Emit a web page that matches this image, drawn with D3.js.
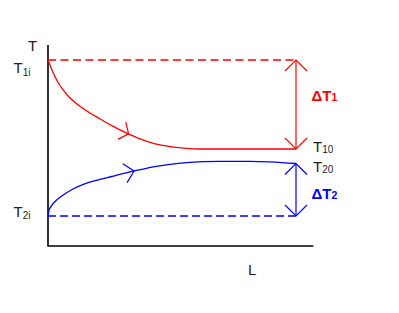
<!DOCTYPE html>
<html><head><meta charset="utf-8">
<script src="https://cdn.jsdelivr.net/npm/d3@7"></script>
<style>
html,body{margin:0;padding:0;background:#fff;}
svg{display:block;font-family:"Liberation Sans",Arial,sans-serif;}
</style></head>
<body><svg id="c" width="399" height="313"></svg>
<script>
// ---- data (L normalised 0..1, T in arbitrary units) ----
const T1i = 100, T10 = 42.95, T2i = 0, T20 = 33.65;
const hotL = [0, 0.016, 0.036, 0.061, 0.089, 0.125, 0.169, 0.210, 0.257, 0.311, 0.371, 0.425, 0.492, 0.559, 0.613, 0.694, 1];
const hotT = [100, 93.6, 86.9, 80.8, 75.6, 70.8, 66.0, 62.2, 57.9, 53.65, 49.4, 46.5, 44.5, 43.3, 42.95, 42.95, 42.95];
const coldL = [0, 0.004, 0.012, 0.028, 0.057, 0.097, 0.153, 0.190, 0.257, 0.344, 0.425, 0.492, 0.559, 0.626, 0.694, 0.815, 1];
const coldT = [0, 3.46, 6.03, 9.17, 12.95, 16.99, 20.96, 22.63, 25.32, 28.72, 31.54, 33.14, 34.23, 34.81, 35.06, 35.0, 33.65];
const hotArrowL = 0.325, coldArrowL = 0.347;
const axisLabels = {x: "L", y: "T"};

const svg = d3.select("#c");
const x = d3.scaleLinear().domain([0, 1]).range([48, 296]);
const y = d3.scaleLinear().domain([0, 100]).range([216, 60]);
const xMax = 1.07, yMin = -19.2, yMax = 109.6;
const RED = "#ff0000", BLUE = "#0000ff", INK = "#222";

// axes
svg.append("path").attr("fill","none").attr("stroke","#000").attr("stroke-width",1.6)
  .attr("d", d3.line()([[x(0), y(yMax)], [x(0), y(yMin)], [x(xMax), y(yMin)]]));

// dashed reference lines
svg.append("line").attr("x1",x(0)).attr("x2",x(1)).attr("y1",y(T1i)).attr("y2",y(T1i))
  .attr("stroke",RED).attr("stroke-width",1.3).attr("stroke-dasharray","8,4.5");
svg.append("line").attr("x1",x(0)).attr("x2",x(1)).attr("y1",y(T2i)).attr("y2",y(T2i))
  .attr("stroke",BLUE).attr("stroke-width",1.3).attr("stroke-dasharray","8,4");

// curves
const hot = hotL.map((l,i)=>[x(l), y(hotT[i])]);
const cold = coldL.map((l,i)=>[x(l), y(coldT[i])]);
svg.append("path").attr("fill","none").attr("stroke",RED).attr("stroke-width",1.3)
  .attr("d", d3.line().curve(d3.curveMonotoneX)(hot));
svg.append("path").attr("fill","none").attr("stroke",BLUE).attr("stroke-width",1.3)
  .attr("d", d3.line().curve(d3.curveMonotoneX)(cold));

// chevrons along curves
function interp(Ls, Ts, l){ return d3.scaleLinear().domain(Ls).range(Ts)(l); }
function chevron(Ls, Ts, l, color, half, len){
  const px = x(l), py = y(interp(Ls, Ts, l));
  const dx = x(l+0.03) - x(l-0.03), dy = y(interp(Ls,Ts,l+0.03)) - y(interp(Ls,Ts,l-0.03));
  const a = Math.atan2(dy, dx) + Math.PI;
  const h = half*Math.PI/180;
  const p1 = [px + len*Math.cos(a+h), py + len*Math.sin(a+h)];
  const p2 = [px + len*Math.cos(a-h), py + len*Math.sin(a-h)];
  svg.append("path").attr("fill","none").attr("stroke",color).attr("stroke-width",1.2)
    .attr("d", d3.line()([p1,[px,py],p2]));
}
chevron(hotL, hotT, hotArrowL, RED, 52, 12);
chevron(coldL, coldT, coldArrowL, BLUE, 46, 13.5);

// double arrows
function dbl(ta, tb, color){
  const X = x(1), ya = y(ta), yb = y(tb), s = 11;
  const g = svg.append("g").attr("fill","none").attr("stroke",color).attr("stroke-width",1.2);
  g.append("line").attr("x1",X).attr("x2",X).attr("y1",ya).attr("y2",yb);
  g.append("path").attr("d", d3.line()([[X-s, ya+s],[X,ya],[X+s, ya+s]]));
  g.append("path").attr("d", d3.line()([[X-s, yb-s],[X,yb],[X+s, yb-s]]));
}
dbl(T1i, T10, RED);
dbl(T20, T2i, BLUE);

// labels
function lab(px, py, main, sub, color, bold, subSize, subDy){
  const t = svg.append("text").attr("x",px).attr("y",py).attr("fill",color)
    .attr("font-size",15).attr("font-weight", bold ? "bold" : "normal");
  t.append("tspan").text(main);
  if (sub) t.append("tspan").attr("font-size",subSize).attr("dy",subDy).text(sub);
}
lab(28, 51, axisLabels.y, null, INK, false);
lab(248, 274.5, axisLabels.x, null, INK, false);
lab(13.5, 73, "T", "1i", INK, false, 10, 2.5);
lab(13.5, 217, "T", "2i", INK, false, 10, 2);
lab(313, 152, "T", "10", INK, false, 10, 0.5);
lab(313, 172, "T", "20", INK, false, 10, 0.5);
lab(311.5, 100.5, "ΔT", "1", RED, true, 10.5, 0.5);
lab(311.5, 198.5, "ΔT", "2", BLUE, true, 10.5, 0.5);
</script></body></html>
